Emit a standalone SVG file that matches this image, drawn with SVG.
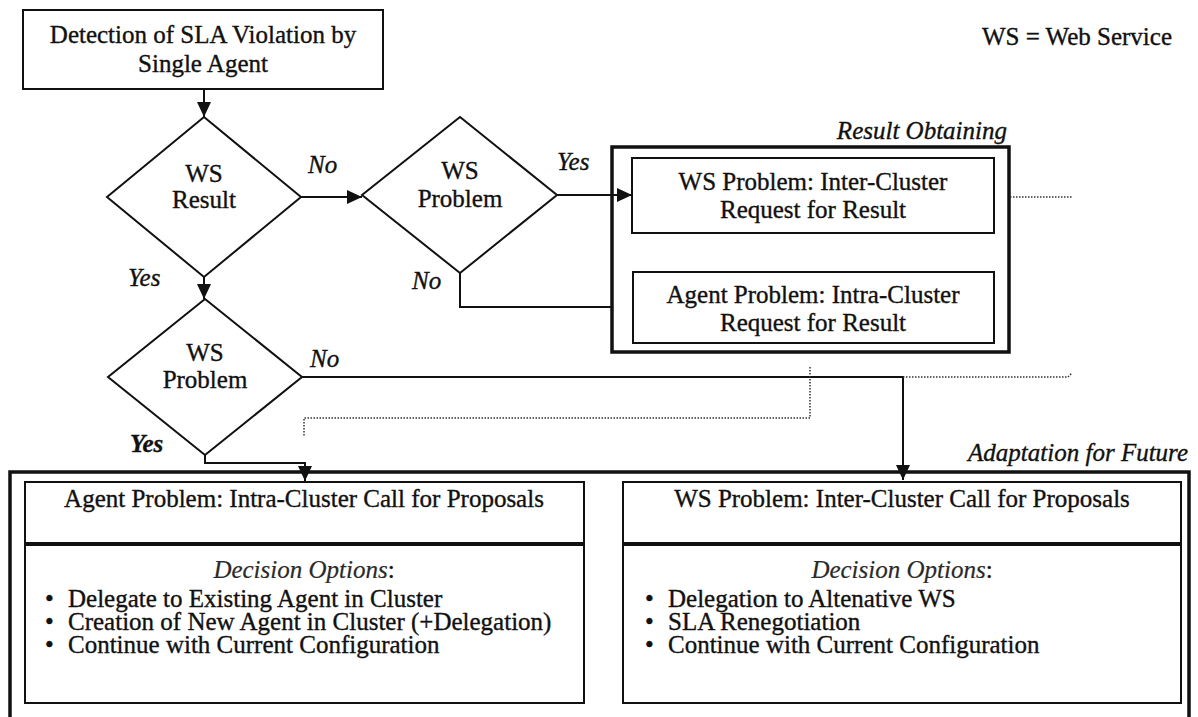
<svg xmlns="http://www.w3.org/2000/svg" width="1198" height="717" viewBox="0 0 1198 717" font-family="'Liberation Serif', 'Times New Roman', Times, serif">
<defs>
<marker id="arr" markerUnits="userSpaceOnUse" markerWidth="16" markerHeight="14" refX="15" refY="7" orient="auto">
<path d="M0,0 L15,7 L0,14 Z" fill="#111"/>
</marker>
<style>
text{font-family:'Liberation Serif','Times New Roman',Times,serif;font-size:25px;fill:#111;stroke:#111;stroke-width:0.35}
.c{text-anchor:middle}
.e{text-anchor:end}
.i{font-style:italic}
.box{fill:#fff;stroke:#111;stroke-width:2}
.outer{fill:none;stroke:#111;stroke-width:3.5}
.dia{fill:none;stroke:#111;stroke-width:2}
.ln{fill:none;stroke:#111;stroke-width:2}
.dot{fill:none;stroke:#333;stroke-width:1.5;stroke-dasharray:1.5 1.5}
.opt{fill:#2a2a2a;stroke:#2a2a2a;stroke-width:0.2}
</style>
</defs>
<rect width="1198" height="717" fill="#fff"/>

<text x="1172" y="45" class="e">WS = Web Service</text>

<g id="containers">
<rect x="612" y="147" width="397" height="205" class="outer"/>
<text x="1007" y="139" class="e i">Result Obtaining</text>
<path d="M10,720 L10,472 L1189,472 L1189,720" class="outer"/>
<text x="1188" y="461" class="e i">Adaptation for Future</text>
</g>

<g id="connectors">
<line x1="204" y1="89" x2="204" y2="117" class="ln" marker-end="url(#arr)"/>
<line x1="301" y1="197" x2="362" y2="197" class="ln" marker-end="url(#arr)"/>
<text x="308" y="173" class="i">No</text>
<line x1="557" y1="195" x2="632" y2="195" class="ln" marker-end="url(#arr)"/>
<text x="557" y="170" class="i">Yes</text>
<polyline points="460,273 460,307 612,307" class="ln"/>
<text x="412" y="289" class="i">No</text>
<line x1="1010" y1="197" x2="1073" y2="197" class="dot"/>
<line x1="204" y1="277" x2="204" y2="299" class="ln" marker-end="url(#arr)"/>
<text x="128" y="286" class="i">Yes</text>
<polyline points="302,377 903,377 903,480" class="ln" marker-end="url(#arr)"/>
<text x="310" y="367" class="i">No</text>
<polyline points="903,377 1068,377 1072,373" class="dot"/>
<polyline points="810,367 810,418 304,418 304,436" class="dot"/>
<polyline points="205,455 205,463 305,463 305,481" class="ln" marker-end="url(#arr)"/>
<text x="130" y="452" class="i" style="font-weight:bold">Yes</text>
</g>

<g id="detection">
<rect x="23" y="10" width="360" height="79" class="box"/>
<text x="203" y="43" class="c">Detection of SLA Violation by</text>
<text x="203" y="72" class="c">Single Agent</text>
</g>

<g id="ws-result">
<polygon points="204,117 301,197 204,277 107,197" class="dia"/>
<text x="204" y="182" class="c">WS</text>
<text x="204" y="208" class="c">Result</text>
</g>

<g id="ws-problem-1">
<polygon points="460,117 557,195 460,273 362,195" class="dia"/>
<text x="460" y="179" class="c">WS</text>
<text x="460" y="207" class="c">Problem</text>
</g>

<g id="ws-problem-2">
<polygon points="205,299 302,377 205,455 108,377" class="dia"/>
<text x="205" y="361" class="c">WS</text>
<text x="205" y="388" class="c">Problem</text>
</g>

<g id="inter-request">
<rect x="632" y="158" width="362" height="75" class="box"/>
<text x="813" y="190" class="c">WS Problem: Inter-Cluster</text>
<text x="813" y="218" class="c">Request for Result</text>
</g>

<g id="intra-request">
<rect x="633" y="272" width="361" height="71" class="box"/>
<text x="813" y="303" class="c">Agent Problem: Intra-Cluster</text>
<text x="813" y="331" class="c">Request for Result</text>
</g>

<g id="intra-cfp">
<rect x="25" y="482" width="559" height="61" class="box"/>
<text x="304" y="507" class="c">Agent Problem: Intra-Cluster Call for Proposals</text>
</g>

<g id="intra-options">
<rect x="25" y="545" width="559" height="158" class="box"/>
<text x="304" y="578" class="c"><tspan class="i opt">Decision Options</tspan>:</text>
<text><tspan x="45" y="607">•</tspan><tspan x="68" y="607">Delegate to Existing Agent in Cluster</tspan><tspan x="45" y="630">•</tspan><tspan x="68" y="630">Creation of New Agent in Cluster (+Delegation)</tspan><tspan x="45" y="653">•</tspan><tspan x="68" y="653">Continue with Current Configuration</tspan></text>
</g>

<g id="inter-cfp">
<rect x="623" y="482" width="558" height="61" class="box"/>
<text x="902" y="507" class="c">WS Problem: Inter-Cluster Call for Proposals</text>
</g>

<g id="inter-options">
<rect x="623" y="545" width="558" height="158" class="box"/>
<text x="902" y="578" class="c"><tspan class="i opt">Decision Options</tspan>:</text>
<text><tspan x="645" y="607">•</tspan><tspan x="668" y="607">Delegation to Altenative WS</tspan><tspan x="645" y="630">•</tspan><tspan x="668" y="630">SLA Renegotiation</tspan><tspan x="645" y="653">•</tspan><tspan x="668" y="653">Continue with Current Configuration</tspan></text>
</g>
</svg>
